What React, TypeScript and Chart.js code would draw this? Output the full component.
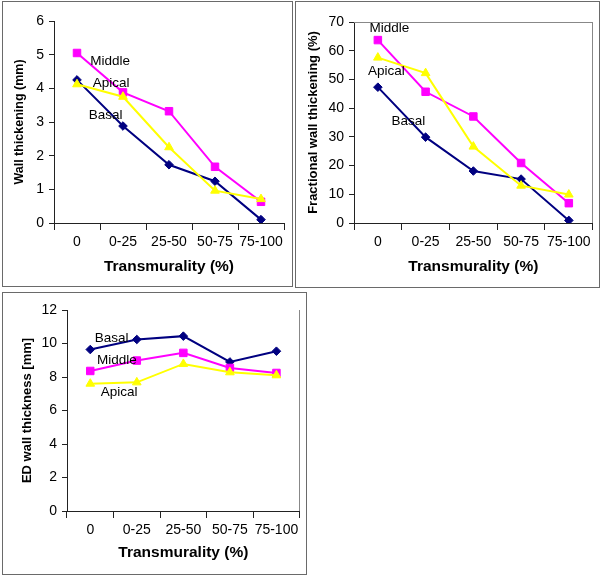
import React, { useEffect, useRef } from "react";
import { Chart, registerables } from "chart.js";

Chart.register(...registerables);

// ---------- data ----------
const categories = ["0", "0-25", "25-50", "50-75", "75-100"];

const wallThickeningBasal = [4.25, 2.88, 1.73, 1.24, 0.1];
const wallThickeningMiddle = [5.05, 3.88, 3.32, 1.67, 0.63];
const wallThickeningApical = [4.12, 3.75, 2.25, 0.96, 0.71];

const fractionalBasal = [47.3, 29.9, 18.1, 15.3, 0.9];
const fractionalMiddle = [63.7, 45.7, 37.1, 20.9, 6.9];
const fractionalApical = [57.6, 52.2, 26.6, 13.0, 9.9];

const edBasal = [9.64, 10.24, 10.44, 8.9, 9.54];
const edMiddle = [8.36, 8.98, 9.44, 8.54, 8.24];
const edApical = [7.6, 7.68, 8.78, 8.28, 8.1];

// in-plot series labels (category index, value)
const wallLabels = [
  { text: "Middle", x: 0.72, y: 4.81 },
  { text: "Apical", x: 0.74, y: 4.16 },
  { text: "Basal", x: 0.62, y: 3.2 },
];
const fractionalLabels = [
  { text: "Middle", x: 0.24, y: 67.9 },
  { text: "Apical", x: 0.18, y: 52.9 },
  { text: "Basal", x: 0.64, y: 35.5 },
];
const edLabels = [
  { text: "Basal", x: 0.46, y: 10.33 },
  { text: "Middle", x: 0.57, y: 9.0 },
  { text: "Apical", x: 0.62, y: 7.1 },
];

const FONT = "'Liberation Sans', Arial, Helvetica, sans-serif";
const NAVY = "#000080";
const MAGENTA = "#FF00FF";
const YELLOW = "#FFFF00";
const AXIS = "#222";

const framePlugin = {
  id: "frame",
  afterDraw(chart: any, _args: any, opts: any) {
    const { ctx, chartArea: a } = chart;
    ctx.save();
    ctx.strokeStyle = opts.color || "#888";
    ctx.lineWidth = 1;
    ctx.beginPath();
    if (opts.top) {
      ctx.moveTo(a.left, Math.round(a.top) + 0.5);
      ctx.lineTo(a.right, Math.round(a.top) + 0.5);
    }
    if (opts.right) {
      ctx.moveTo(Math.round(a.right) - 0.5, a.top);
      ctx.lineTo(Math.round(a.right) - 0.5, a.bottom);
    }
    ctx.stroke();
    ctx.fillStyle = "#000";
    ctx.font = `13.5px ${FONT}`;
    ctx.textAlign = "center";
    ctx.textBaseline = "middle";
    for (const l of opts.labels || []) {
      const x = chart.scales.x.getPixelForValue(l.x);
      const y = chart.scales.y.getPixelForValue(l.y);
      ctx.fillText(l.text, x, y);
    }
    ctx.restore();
  },
};

type PanelProps = {
  left: number;
  top: number;
  width: number;
  height: number;
  apical: number[];
  middle: number[];
  basal: number[];
  yMax: number;
  yStep: number;
  yTitle: string;
  yTitleSize: number;
  yTitlePad: number;
  yWidth: number;
  xHeight: number;
  xTitlePad: number;
  padTop: number;
  padRight: number;
  frameTop: boolean;
  frameRight: boolean;
  labels: { text: string; x: number; y: number }[];
};

function Panel(p: PanelProps) {
  const ref = useRef<HTMLCanvasElement | null>(null);
  useEffect(() => {
    if (!ref.current) return;
    const mk = (label: string, data: number[], color: string, style: string, radius: number) => ({
      label,
      data,
      borderColor: color,
      backgroundColor: color,
      pointBackgroundColor: color,
      pointBorderColor: color,
      pointStyle: style,
      pointRadius: radius,
      pointBorderWidth: 1,
      borderWidth: 2,
      tension: 0,
      fill: false,
    });
    const chart = new Chart(ref.current, {
      type: "line",
      data: {
        labels: categories,
        datasets: [
          mk("Apical", p.apical, YELLOW, "triangle", 5),
          mk("Middle", p.middle, MAGENTA, "rect", 5.3),
          mk("Basal", p.basal, NAVY, "rectRot", 4.3),
        ],
      },
      options: {
        responsive: false,
        animation: false,
        devicePixelRatio: 1,
        layout: { padding: { left: 0, top: p.padTop, right: p.padRight, bottom: 0 } },
        plugins: {
          legend: { display: false },
          tooltip: { enabled: false },
          frame: { top: p.frameTop, right: p.frameRight, color: "#888", labels: p.labels },
        } as any,
        scales: {
          x: {
            type: "category",
            offset: true,
            grid: {
              offset: true,
              drawOnChartArea: false,
              drawTicks: true,
              tickLength: 7,
              color: AXIS,
              lineWidth: 1,
            },
            border: { display: true, color: AXIS, width: 1 },
            ticks: {
              color: "#000",
              font: { size: 14, family: FONT },
              padding: 3.5,
              maxRotation: 0,
              autoSkip: false,
            },
            title: {
              display: true,
              text: "Transmurality (%)",
              color: "#000",
              font: { size: 15.5, weight: "bold", family: FONT },
              padding: { top: 0, bottom: p.xTitlePad },
            },
            afterFit: (s: any) => {
              s.height = p.xHeight;
            },
          },
          y: {
            min: 0,
            max: p.yMax,
            ticks: {
              stepSize: p.yStep,
              color: "#000",
              font: { size: 14, family: FONT },
              padding: 5,
            },
            grid: {
              drawOnChartArea: false,
              drawTicks: true,
              tickLength: 5,
              color: AXIS,
              lineWidth: 1,
            },
            border: { display: true, color: AXIS, width: 1 },
            title: {
              display: true,
              text: p.yTitle,
              color: "#000",
              font: { size: p.yTitleSize, weight: "bold", family: FONT },
              padding: { top: p.yTitlePad, bottom: 0 },
            },
            afterFit: (s: any) => {
              s.width = p.yWidth;
            },
          },
        },
      } as any,
      plugins: [framePlugin as any],
    });
    return () => chart.destroy();
  }, []);

  return (
    <div
      style={{
        position: "absolute",
        left: p.left,
        top: p.top,
        width: p.width + 2,
        height: p.height + 2,
        boxSizing: "border-box",
        border: "1px solid #6a6a6a",
        background: "#fff",
      }}
    >
      <canvas
        ref={ref}
        width={p.width}
        height={p.height}
        style={{ display: "block", width: p.width, height: p.height }}
      />
    </div>
  );
}

export default function App() {
  return (
    <div
      style={{
        position: "absolute",
        left: 0,
        top: 0,
        width: 600,
        height: 576,
        background: "#fff",
        overflow: "hidden",
      }}
    >
      <Panel
        left={2}
        top={1}
        width={289}
        height={284}
        apical={wallThickeningApical}
        middle={wallThickeningMiddle}
        basal={wallThickeningBasal}
        yMax={6}
        yStep={1}
        yTitle="Wall thickening (mm)"
        yTitleSize={12.5}
        yTitlePad={9.5}
        yWidth={51}
        xHeight={63}
        xTitlePad={9.7}
        padTop={19}
        padRight={8}
        frameTop={false}
        frameRight={false}
        labels={wallLabels}
      />
      <Panel
        left={295}
        top={1}
        width={303}
        height={285}
        apical={fractionalApical}
        middle={fractionalMiddle}
        basal={fractionalBasal}
        yMax={70}
        yStep={10}
        yTitle="Fractional wall thickening (%)"
        yTitleSize={13}
        yTitlePad={9.2}
        yWidth={58}
        xHeight={64}
        xTitlePad={10.7}
        padTop={20}
        padRight={6}
        frameTop={true}
        frameRight={true}
        labels={fractionalLabels}
      />
      <Panel
        left={2}
        top={292}
        width={303}
        height={281}
        apical={edApical}
        middle={edMiddle}
        basal={edBasal}
        yMax={12}
        yStep={2}
        yTitle="ED wall thickness [mm]"
        yTitleSize={13}
        yTitlePad={16.2}
        yWidth={64}
        xHeight={63}
        xTitlePad={11.7}
        padTop={17}
        padRight={4}
        frameTop={false}
        frameRight={true}
        labels={edLabels}
      />
    </div>
  );
}
